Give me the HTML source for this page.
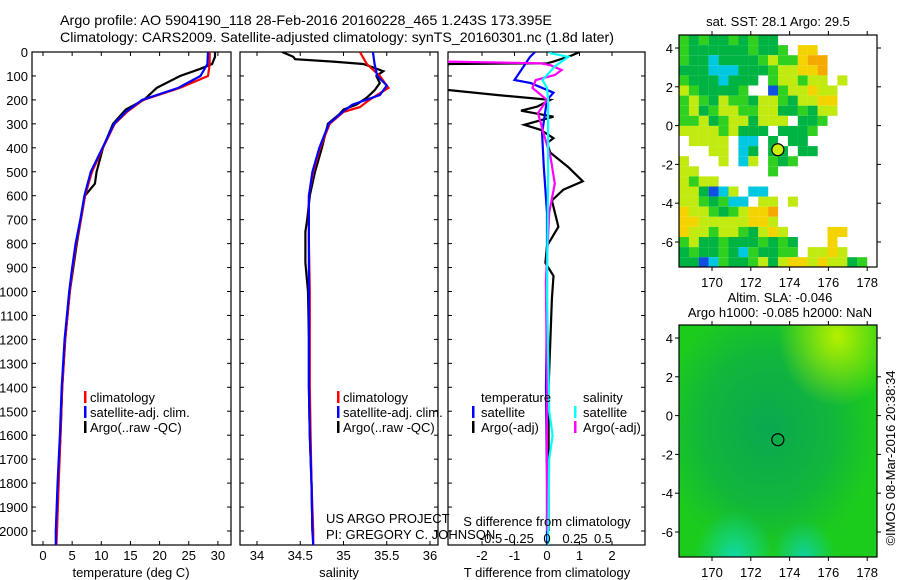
<!DOCTYPE html>
<html><head><meta charset="utf-8"><style>
body{margin:0;background:#fff}
svg{display:block;font-family:"Liberation Sans",sans-serif}
</style></head><body>
<svg id="c" width="900" height="580" viewBox="0 0 900 580">
<defs>
<clipPath id="cp1"><rect x="32" y="52" width="199" height="493"/></clipPath>
<clipPath id="cp2"><rect x="240" y="52" width="198" height="493"/></clipPath>
<clipPath id="cp3"><rect x="448" y="52" width="197" height="493"/></clipPath>
<radialGradient id="gTR" cx="0.8" cy="0.05" r="0.3"><stop offset="0" stop-color="#b4f000"/><stop offset="1" stop-color="#b4f000" stop-opacity="0"/></radialGradient>
<radialGradient id="gBL" cx="0.28" cy="1" r="0.2"><stop offset="0" stop-color="#10d8a8"/><stop offset="1" stop-color="#10d8a8" stop-opacity="0"/></radialGradient>
<radialGradient id="gBM" cx="0.63" cy="1" r="0.16"><stop offset="0" stop-color="#10d0a0"/><stop offset="1" stop-color="#10d0a0" stop-opacity="0"/></radialGradient>
<radialGradient id="gC" cx="0.45" cy="0.45" r="0.55"><stop offset="0" stop-color="#0aa850"/><stop offset="0.6" stop-color="#0aa850" stop-opacity="0.6"/><stop offset="1" stop-color="#0aa850" stop-opacity="0"/></radialGradient>
</defs>
<text x="60" y="25" font-size="14" textLength="492" lengthAdjust="spacingAndGlyphs">Argo profile: AO 5904190_118 28-Feb-2016 20160228_465 1.243S 173.395E</text>
<text x="60" y="42" font-size="14" textLength="554" lengthAdjust="spacingAndGlyphs">Climatology: CARS2009. Satellite-adjusted climatology: synTS_20160301.nc (1.8d later)</text>
<g id="g"></g>
</svg>
<script>
// ---- data ----
const tempClimDepth=[0,50,100,150,200,250,300,400,500,600,700,800,900,1000,1200,1400,1600,1800,2000,2058];
const tempClim=[28.6,28.6,28.3,23.5,17.2,14.4,12.3,10.3,8.4,7.2,6.5,5.7,5.1,4.6,3.8,3.3,3.0,2.7,2.4,2.3];
const tempSatDepth=[0,50,100,150,200,250,300,400,500,600,700,800,900,1000,1200,1400,1600,1800,2000,2058];
const tempSat=[28.3,28.2,27.0,23.2,17.0,14.2,12.2,10.2,8.2,7.1,6.4,5.6,5.0,4.5,3.7,3.2,2.9,2.5,2.2,2.2];
const tempArgoDepth=[0,20,50,70,100,150,200,240,300,400,500,550,600,700,800,1000,1200,1400,1600,1800,2000];
const tempArgo=[29.5,29.5,29.0,27.0,23.5,19.5,17.3,14.2,12.0,10.3,9.2,8.9,7.2,6.5,5.8,4.6,3.8,3.3,3.0,2.6,2.3];
const salClimDepth=[0,50,100,150,200,230,250,300,400,500,600,800,1000,1400,1600,1800,2000,2058];
const salClim=[35.19,35.27,35.42,35.52,35.30,35.19,35.0,34.84,34.73,34.65,34.6,34.6,34.61,34.61,34.62,34.63,34.65,34.65];
const salSatDepth=[0,50,100,140,180,220,250,300,400,500,600,800,1000,1400,1600,1800,2000,2058];
const salSat=[35.34,35.36,35.39,35.5,35.42,35.1,34.99,34.83,34.72,34.64,34.6,34.6,34.6,34.6,34.61,34.63,34.64,34.65];
const salArgoDepth=[0,20,30,40,50,80,100,130,160,190,220,240,260,300,400,500,600,700,750,880,1000,1200,1400,1600,1800,2000];
const salArgo=[34.29,34.42,34.44,34.88,35.23,35.46,35.38,35.42,35.36,35.27,35.15,35.0,34.95,34.82,34.75,34.67,34.61,34.58,34.56,34.56,34.59,34.6,34.6,34.61,34.63,34.64];
const dTSatDepth=[0,20,117,130,170,200,340,480,670,1030,1400,1800,2058];
const dTSat=[-0.37,-0.52,-1.0,-0.5,0.2,0,-0.15,-0.1,0,0,-0.03,0,0];
const dSSatDepth=[0,5,20,60,117,150,200,500,1000,1500,1600,1700,2058];
const dSSat=[0.03,0.03,0.19,0.07,-0.04,0,0.01,0.01,0.0,0.02,0.05,0.02,0.01];
const dTArgoDepth=[0,14,40,47,50,60,158,180,200,228,245,270,304,325,360,380,420,480,540,575,620,730,810,880,935,1030,1400,1800,2000];
const dTArgo=[1.0,0.77,0.2,0,-3,-3.2,-3.1,-1.5,0.1,-0.3,-0.8,0.2,-0.7,-0.2,0.2,0.0,0.1,0.65,1.1,0.5,0.15,0.35,0,-0.05,0.2,0.15,0.05,0.05,0.05];
const dSArgoDepth=[25,40,47,55,75,96,117,150,200,255,340,435,550,670,960,1400,2000];
const dSArgo=[-0.9,-0.88,-0.06,0.03,0.13,0.07,-0.1,-0.13,0,-0.08,-0.03,0.03,0.07,0.02,-0.01,0,0];
const depthTicks=[0,100,200,300,400,500,600,700,800,900,1000,1100,1200,1300,1400,1500,1600,1700,1800,1900,2000];
const tempTicks=[0,5,10,15,20,25,30];
const salTicks=[34,34.5,35,35.5,36];
const dTTicks=[-2,-1,0,1,2];
const dSTicks=[-0.5,-0.25,0,0.25,0.5];
const lonTicks=[170,172,174,176,178];
const latTicks=[4,2,0,-2,-4,-6];
const argoLon=173.395, argoLat=-1.243;
const sstRows=[
"gGgGGgGgGG..........",
"gGGGGGGgGGg.YY......",
"gGGcGGGGgyggYoo.....",
"GGGcccGGGgyyYYo.....",
"gGGGcGGG.gyygyy.y...",
"ygGGGGg..bgyyYyy....",
"gygGyggGyygGyyYY....",
"gyGgyyggyyGGgGyy....",
"ggyGgyyGyyy.GGg.....",
"yyyygyGGG.GGGg......",
".yyyy.cc.G.GG.......",
"...yy.cG.GG.GG......",
"y...y.cy.gGg........",
"yy.......g..........",
"ygyy................",
"yyGbcy.cc...........",
"yygGgcc.yy.y........",
"YyygGgyYYo..........",
"YYyyyyyYYy..........",
"YyygyygGyYy....YY...",
"gyGGgGGGgGgG...Y....",
"GgGGgGcgGGgg.yyYy...",
"GGbcgGGgyGyYYyYyyGg."];
const sstColors={G:'#00b444',g:'#30d020',y:'#c0ea10',Y:'#f4d400',o:'#f4a800',c:'#00c8e0',b:'#1050e0'};

// ---- helpers ----
const NS='http://www.w3.org/2000/svg';
const G=document.getElementById('g');
function mk(tag,attrs,parent){const e=document.createElementNS(NS,tag);for(const k in attrs)e.setAttribute(k,attrs[k]);(parent||G).appendChild(e);return e;}
const yD=d=>52+0.2395*d;
const xT=t=>43+5.83*t;
const xS=s=>257+86.5*(s-34);
const xDT=t=>547+32.5*t;
const xDS=s=>547+112*s;
const mxLon=l=>712+(l-170)*19.4;
const myLat1=l=>48+(4-l)*19.4;
const myLat2=l=>338+(4-l)*19.4;

function line(depths,vals,fx,color,clip,name){
  const pts=depths.map((d,i)=>fx(vals[i]).toFixed(1)+','+yD(d).toFixed(1)).join(' ');
  const p=mk('polyline',{points:pts,fill:'none',stroke:color,'stroke-width':2.2,'clip-path':'url(#'+clip+')'});
  
  
}
function panel(x0,w,name){
  const r=mk('rect',{x:x0,y:52,width:w,height:493,fill:'none',stroke:'#000','stroke-width':1.2});
  
  
  depthTicks.forEach(d=>{
    mk('line',{x1:x0,x2:x0+4,y1:yD(d),y2:yD(d),stroke:'#000'});
    mk('line',{x1:x0+w-4,x2:x0+w,y1:yD(d),y2:yD(d),stroke:'#000'});
  });
}
function xticks(ticks,fx,name,ylab){
  ticks.forEach(t=>{
    const x=fx(t);
    mk('line',{x1:x,x2:x,y1:545,y2:541,stroke:'#000'});
    mk('line',{x1:x,x2:x,y1:52,y2:56,stroke:'#000'});
    const tx=mk('text',{x:x,y:ylab,'font-size':13,'text-anchor':'middle'});
    tx.textContent=String(t);
    
    
  });
}
function txt(x,y,s,name,size,anchor){
  const t=mk('text',{x:x,y:y,'font-size':size||13,'text-anchor':anchor||'start'});
  t.textContent=s;
  
  
  return t;
}
function legbar(x,y,color){
  const b=mk('rect',{x:x,y:y-11,width:2.5,height:12,fill:color});
  
  
}

depthTicks.forEach(d=>{ txt(28,yD(d)+5,String(d),'y-tick-label',13,'end'); });

// ---- panel 1 temperature ----
panel(32,199,'temperature-panel');
line(tempArgoDepth,tempArgo,xT,'#000','cp1','temp-argo-line');
line(tempClimDepth,tempClim,xT,'#f00','cp1','temp-climatology-line');
line(tempSatDepth,tempSat,xT,'#00f','cp1','temp-satellite-line');
xticks(tempTicks,xT,'temp-x-tick',560);
txt(131,577,'temperature (deg C)','temp-x-axis-title',13,'middle');
legbar(84,402,'#f00');legbar(84,417,'#00f');legbar(84,432,'#000');
txt(90,402,'climatology','legend-climatology');
txt(90,417,'satellite-adj. clim.','legend-satellite');
txt(90,432,'Argo(..raw -QC)','legend-argo');

// ---- panel 2 salinity ----
panel(240,198,'salinity-panel');
line(salArgoDepth,salArgo,xS,'#000','cp2','sal-argo-line');
line(salClimDepth,salClim,xS,'#f00','cp2','sal-climatology-line');
line(salSatDepth,salSat,xS,'#00f','cp2','sal-satellite-line');
xticks(salTicks,xS,'sal-x-tick',560);
txt(339,577,'salinity','sal-x-axis-title',13,'middle');
legbar(337,402,'#f00');legbar(337,417,'#00f');legbar(337,432,'#000');
txt(343,402,'climatology','legend-climatology');
txt(343,417,'satellite-adj. clim.','legend-satellite');
txt(343,432,'Argo(..raw -QC)','legend-argo');
txt(326,523,'US ARGO PROJECT','project-credit');
txt(326,539,'PI: GREGORY C. JOHNSON','pi-credit');

// ---- panel 3 differences ----
panel(448,197,'difference-panel');
line(dTArgoDepth,dTArgo,xDT,'#000','cp3','dT-argo-line');
line(dTSatDepth,dTSat,xDT,'#00f','cp3','dT-satellite-line');
line(dSArgoDepth,dSArgo,xDS,'#f0f','cp3','dS-argo-line');
line(dSSatDepth,dSSat,xDS,'#0ff','cp3','dS-satellite-line');
xticks(dTTicks,xDT,'dT-x-tick',560);
dSTicks.forEach(s=>{txt(xDS(s),543,String(s),'dS-tick-label',13,'middle');});
txt(547,526,'S difference from climatology','dS-axis-title',13,'middle');
txt(547,577,'T difference from climatology','dT-axis-title',13,'middle');
txt(481,402,'temperature','legend-temperature-header');
txt(583,402,'salinity','legend-salinity-header');
legbar(472,417,'#00f');legbar(472,432,'#000');
legbar(574,417,'#0ff');legbar(574,432,'#f0f');
txt(481,417,'satellite','legend-t-satellite');
txt(481,432,'Argo(-adj)','legend-t-argo');
txt(583,417,'satellite','legend-s-satellite');
txt(583,432,'Argo(-adj)','legend-s-argo');

// ---- map 1 SST ----
txt(778,26,'sat. SST: 28.1  Argo: 29.5','sst-map-title',13,'middle');
sstRows.forEach((row,r)=>{
  for(let c=0;c<row.length;c++){
    const ch=row[c]; if(ch==='.')continue;
    const h=Math.min(10.1,267-(35+r*10.1));
    const cell=mk('rect',{x:679+c*9.9,y:35+r*10.1,width:10,height:h,fill:sstColors[ch]});
    
    
  }
});
function mapFrame(y0,myLat,name,xlabY){
  const r=mk('rect',{x:679,y:y0,width:198,height:232,fill:'none',stroke:'#000','stroke-width':1.2});
  
  
  lonTicks.forEach(l=>{
    const x=mxLon(l);
    mk('line',{x1:x,x2:x,y1:y0,y2:y0-4,stroke:'#000'});
    mk('line',{x1:x,x2:x,y1:y0+232,y2:y0+236,stroke:'#000'});
    txt(x,xlabY,String(l),'lon-tick-label',13,'middle');
  });
  latTicks.forEach(l=>{
    const y=myLat(l);
    mk('line',{x1:679,x2:675,y1:y,y2:y,stroke:'#000'});
    mk('line',{x1:877,x2:881,y1:y,y2:y,stroke:'#000'});
    txt(673,y+5,String(l),'lat-tick-label',13,'end');
  });
  const m=mk('circle',{cx:mxLon(argoLon),cy:myLat(argoLat),r:6,fill:name==='sst-map'?'#c8f000':'none',stroke:'#000','stroke-width':1.2});
  
  
}
mapFrame(35,myLat1,'sst-map',287);

// ---- map 2 SLA ----
txt(780,302,'Altim. SLA: -0.046','sla-map-title',13,'middle');
txt(780,317,'Argo h1000: -0.085 h2000: NaN','sla-map-subtitle',13,'middle');
const bg=mk('rect',{x:679,y:325,width:198,height:232,fill:'#1ccc1c'});


mk('rect',{x:679,y:325,width:198,height:232,fill:'url(#gC)'});
mk('rect',{x:679,y:325,width:198,height:232,fill:'url(#gTR)'});
mk('rect',{x:679,y:325,width:198,height:232,fill:'url(#gBL)'});
mk('rect',{x:679,y:325,width:198,height:232,fill:'url(#gBM)'});
mapFrame(325,myLat2,'sla-map',577);

const cr=txt(0,0,'©IMOS 08-Mar-2016 20:38:34','imos-credit',13,'middle');
cr.setAttribute('transform','translate(895,458) rotate(-90)');
</script>
</body></html>
